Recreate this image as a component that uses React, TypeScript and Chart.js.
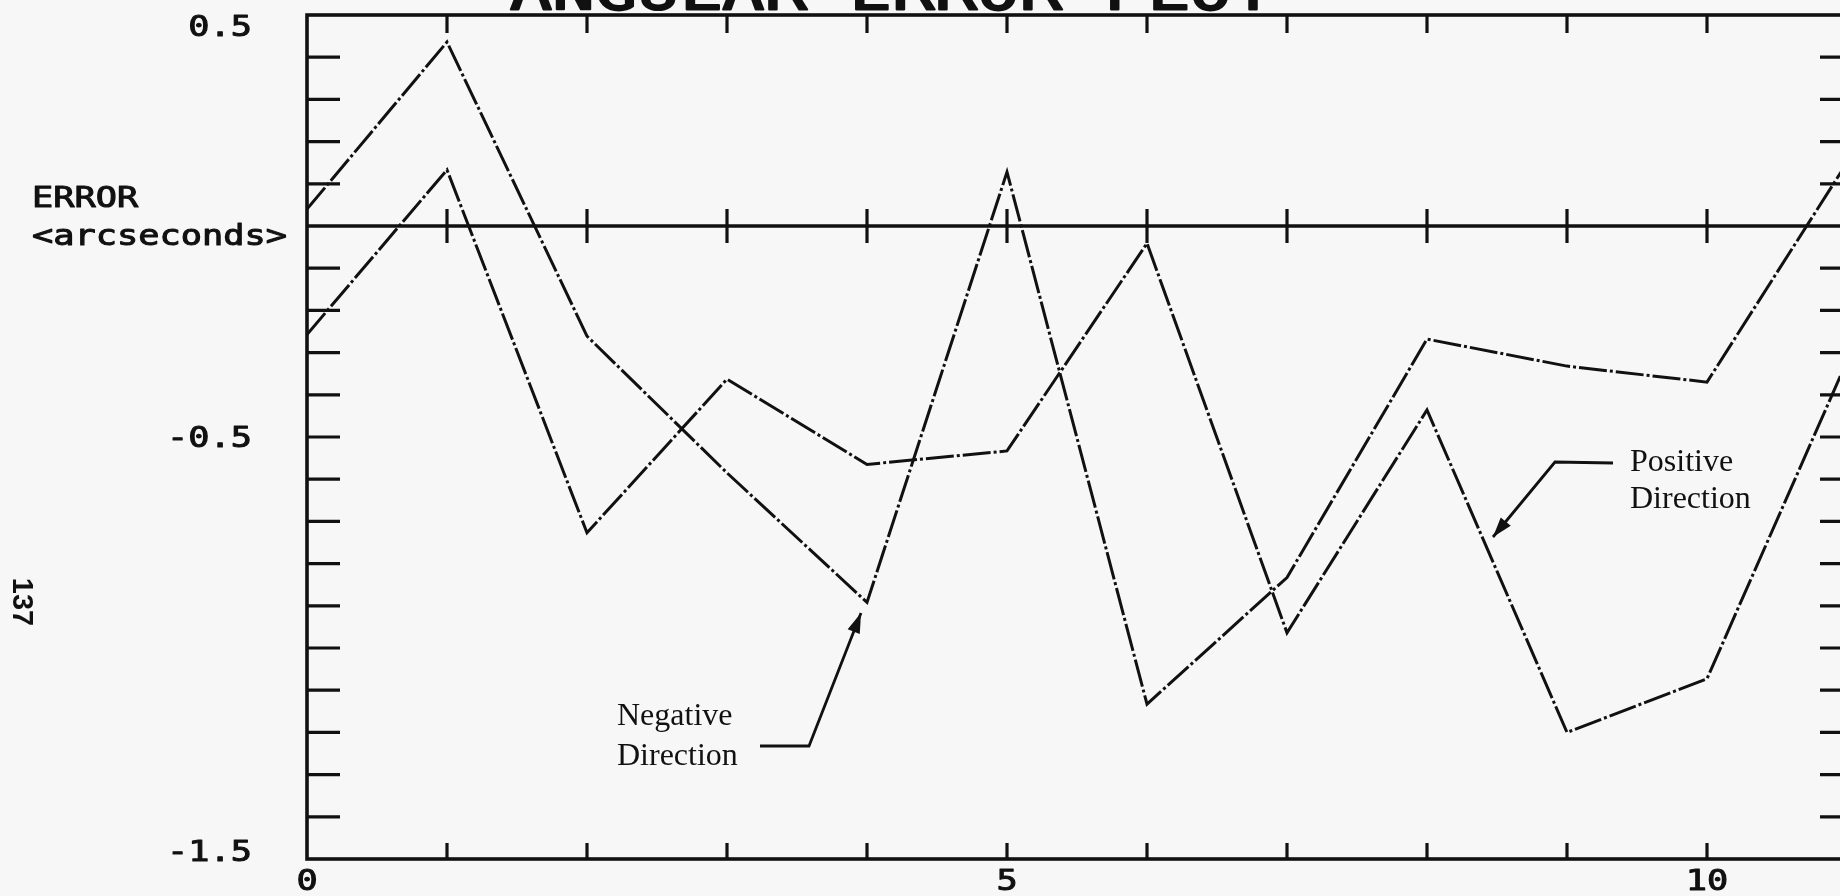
import React, { useEffect, useRef } from "react";
import { Chart, registerables } from "chart.js";

Chart.register(...registerables);

// Step positions along the horizontal axis
const stepPositions = [0, 1, 2, 3, 4, 5, 6, 7, 8, 9, 10, 11];

// Angular error (arcseconds) for each traverse direction
const negativeDirection = [0.04, 0.436, -0.261, -0.585, -0.892, 0.128, -1.133, -0.833, -0.268, -0.332, -0.37, 0.15];
const positiveDirection = [-0.257, 0.133, -0.727, -0.363, -0.565, -0.533, -0.041, -0.964, -0.436, -1.2, -1.073, -0.32];

// Axis labelling
const xTickLabels = [0, 5, 10];
const xMajorTicks = [1, 2, 3, 4, 5, 6, 7, 8, 9, 10];
const yTickLabels = [0.5, -0.5, -1.5];
const yMinorTicks = [0.4, 0.3, 0.2, 0.1, -0.1, -0.2, -0.3, -0.4, -0.5, -0.6, -0.7, -0.8, -0.9, -1.0, -1.1, -1.2, -1.3, -1.4];

const TITLE = "ANGULAR ERROR PLOT";
const Y_TITLE = ["ERROR", "<arcseconds>"];
const PAGE_NUMBER = "137";

const CANVAS_W = 1900;
const CANVAS_H = 956;
const SHIFT = 60; // canvas extends above the visible page
const INK = "#111111";
const STRETCH = 1.26;

function plotterText(
  ctx: CanvasRenderingContext2D,
  text: string,
  x: number,
  y: number,
  size: number,
  align: "left" | "right" | "center"
) {
  ctx.save();
  ctx.font = `${size}px "DejaVu Sans Mono"`;
  const w = ctx.measureText(text).width * STRETCH;
  const x0 = align === "left" ? x : align === "right" ? x - w : x - w / 2;
  ctx.translate(x0, y);
  ctx.scale(STRETCH, 1);
  ctx.textAlign = "left";
  ctx.textBaseline = "alphabetic";
  ctx.fillStyle = INK;
  ctx.strokeStyle = INK;
  ctx.lineWidth = size / 28;
  ctx.lineJoin = "round";
  ctx.fillText(text, 0, 0);
  ctx.strokeText(text, 0, 0);
  ctx.restore();
}

function arrow(ctx: CanvasRenderingContext2D, pts: [number, number][]) {
  ctx.save();
  ctx.strokeStyle = INK;
  ctx.fillStyle = INK;
  ctx.lineWidth = 2.8;
  ctx.setLineDash([]);
  ctx.beginPath();
  ctx.moveTo(pts[0][0], pts[0][1]);
  for (let i = 1; i < pts.length; i++) ctx.lineTo(pts[i][0], pts[i][1]);
  ctx.stroke();
  const [tx, ty] = pts[pts.length - 1];
  const [px, py] = pts[pts.length - 2];
  const a = Math.atan2(ty - py, tx - px);
  const len = 20;
  const half = 6.5;
  ctx.beginPath();
  ctx.moveTo(tx, ty);
  ctx.lineTo(tx - len * Math.cos(a) + half * Math.sin(a), ty - len * Math.sin(a) - half * Math.cos(a));
  ctx.lineTo(tx - len * Math.cos(a) - half * Math.sin(a), ty - len * Math.sin(a) + half * Math.cos(a));
  ctx.closePath();
  ctx.fill();
  ctx.restore();
}

const framePlugin = {
  id: "plotterFrame",
  afterDraw(chart: any) {
    const ctx: CanvasRenderingContext2D = chart.ctx;
    const { left, right, top, bottom } = chart.chartArea;
    const xs = chart.scales.x;
    const ys = chart.scales.y;
    const y0 = ys.getPixelForValue(0);

    ctx.save();
    ctx.strokeStyle = INK;
    ctx.lineCap = "butt";
    ctx.setLineDash([]);

    // frame
    ctx.lineWidth = 3.6;
    ctx.strokeRect(left, top, right - left, bottom - top);

    // zero line
    ctx.lineWidth = 3.4;
    ctx.beginPath();
    ctx.moveTo(left, y0);
    ctx.lineTo(right, y0);
    ctx.stroke();

    // vertical ticks at each step
    ctx.lineWidth = 3.2;
    ctx.beginPath();
    for (const v of xMajorTicks) {
      const px = xs.getPixelForValue(v);
      ctx.moveTo(px, top);
      ctx.lineTo(px, top + 18);
      ctx.moveTo(px, bottom);
      ctx.lineTo(px, bottom - 16);
      ctx.moveTo(px, y0 - 17);
      ctx.lineTo(px, y0 + 17);
    }
    // horizontal ticks along both sides
    for (const v of yMinorTicks) {
      const py = ys.getPixelForValue(v);
      ctx.moveTo(left, py);
      ctx.lineTo(left + 33, py);
      ctx.moveTo(right, py);
      ctx.lineTo(right - 27, py);
    }
    ctx.stroke();
    ctx.restore();

    // tick labels
    for (const v of yTickLabels) {
      const py = ys.getPixelForValue(v);
      const c = Math.min(Math.max(py, top + 11), bottom - 8);
      plotterText(ctx, v.toFixed(1), 252, c + 10, 28, "right");
    }
    for (const v of xTickLabels) {
      plotterText(ctx, String(v), xs.getPixelForValue(v), 890 + SHIFT, 28, "center");
    }

    // axis title and chart title
    plotterText(ctx, Y_TITLE[0], 32, 207 + SHIFT, 28, "left");
    plotterText(ctx, Y_TITLE[1], 32, 245 + SHIFT, 28, "left");
    plotterText(ctx, TITLE, 892, 9 + SHIFT, 56, "center");

    // page number, rotated
    ctx.save();
    ctx.translate(21, 602 + SHIFT);
    ctx.rotate(Math.PI / 2);
    ctx.font = 'bold 29px "Liberation Sans"';
    ctx.fillStyle = INK;
    ctx.textAlign = "center";
    ctx.textBaseline = "middle";
    ctx.fillText(PAGE_NUMBER, 0, 0);
    ctx.restore();

    // direction callouts
    ctx.save();
    ctx.font = '32px "Liberation Serif"';
    ctx.fillStyle = INK;
    ctx.textAlign = "left";
    ctx.textBaseline = "alphabetic";
    ctx.fillText("Negative", 617, 725 + SHIFT);
    ctx.fillText("Direction", 617, 765 + SHIFT);
    ctx.fillText("Positive", 1630, 471 + SHIFT);
    ctx.fillText("Direction", 1630, 508 + SHIFT);
    ctx.restore();

    arrow(ctx, [
      [760, 746 + SHIFT],
      [809, 746 + SHIFT],
      [861, 613 + SHIFT],
    ]);
    arrow(ctx, [
      [1613, 463 + SHIFT],
      [1555, 462 + SHIFT],
      [1493, 537 + SHIFT],
    ]);
  },
};

export default function App() {
  const canvasRef = useRef<HTMLCanvasElement | null>(null);

  useEffect(() => {
    const canvas = canvasRef.current;
    if (!canvas) return;
    const series = (vals: number[]) => stepPositions.map((x, i) => ({ x, y: vals[i] }));
    const lineStyle = {
      borderColor: INK,
      borderWidth: 3,
      borderDash: [28, 3, 3, 3],
      pointRadius: 0,
      tension: 0,
      fill: false,
    };
    const chart = new Chart(canvas, {
      type: "line",
      data: {
        datasets: [
          { label: "Negative Direction", data: series(negativeDirection), ...lineStyle },
          { label: "Positive Direction", data: series(positiveDirection), ...lineStyle },
        ],
      },
      options: {
        animation: false,
        responsive: false,
        devicePixelRatio: 1,
        layout: {
          padding: { left: 307, right: CANVAS_W - 1847, top: 15 + SHIFT, bottom: CANVAS_H - (859 + SHIFT) },
        },
        scales: {
          x: { type: "linear", min: 0, max: 11, display: false },
          y: { type: "linear", min: -1.5, max: 0.5, display: false },
        },
        plugins: {
          legend: { display: false },
          tooltip: { enabled: false },
          title: { display: false },
        },
      },
      plugins: [framePlugin],
    } as any);
    return () => chart.destroy();
  }, []);

  return (
    <div
      style={{
        position: "fixed",
        left: 0,
        top: 0,
        width: 1840,
        height: 896,
        overflow: "hidden",
        background: "#f7f7f7",
      }}
    >
      <canvas
        ref={canvasRef}
        width={CANVAS_W}
        height={CANVAS_H}
        style={{ position: "absolute", left: 0, top: -SHIFT, width: CANVAS_W, height: CANVAS_H }}
      />
    </div>
  );
}
